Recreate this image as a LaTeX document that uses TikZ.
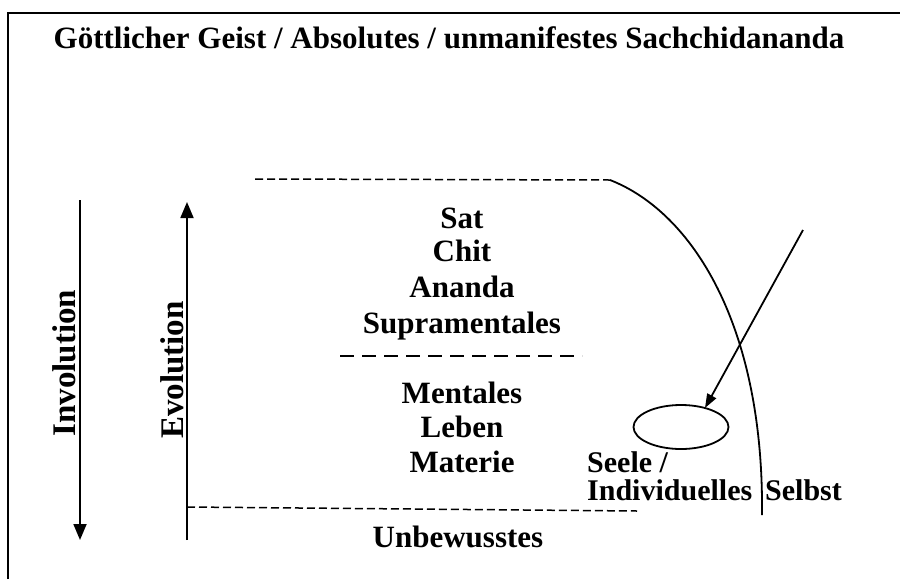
\documentclass[tikz,border=0pt]{standalone}
\usepackage{fontspec}
\setmainfont{Liberation Serif}
\usetikzlibrary{arrows.meta,shapes.geometric}
\begin{document}
\begin{tikzpicture}[x=1pt,y=-1pt,
  lbl/.style={font=\bfseries\fontsize{31}{35}\selectfont, inner sep=0pt, anchor=base},
  side/.style={font=\bfseries\fontsize{30}{34}\selectfont, inner sep=0pt, anchor=base west},
  ttl/.style={font=\bfseries\fontsize{31}{35}\selectfont, inner sep=0pt, anchor=base},
  vlbl/.style={font=\bfseries\fontsize{33}{37}\selectfont, inner sep=0pt, rotate=90, anchor=center},
  frame/.style={line width=2.5pt},
  solid line/.style={line width=1.8pt},
  bigarrow/.style={line width=1.8pt, -{Triangle[length=16pt,width=13pt]}},
  smallarrow/.style={line width=1.8pt, -{Triangle[length=14pt,width=10pt]}},
  fine dash/.style={line width=1.5pt, dash pattern=on 8pt off 4pt},
  coarse dash/.style={line width=2.2pt, dash pattern=on 14pt off 8pt}]
\useasboundingbox (0,0) rectangle (900,579);
% frame
\coordinate (fTL) at (8,13);
\coordinate (fTR) at (900,13);
\coordinate (fBL) at (8,579);
\draw[frame] (fBL) -- (fTL) -- (fTR);

% title
\node[ttl] (title) at (449,48) {Göttlicher Geist / Absolutes / unmanifestes Sachchidananda};

% involution / evolution
\coordinate (invTop) at (80,200);
\coordinate (invBot) at (80,540);
\draw[bigarrow] (invTop) -- (invBot);
\node[vlbl] (inv) at (64,363) {Involution};
\coordinate (evoBot) at (187,540);
\coordinate (evoTop) at (187,202);
\draw[bigarrow] (evoBot) -- (evoTop);
\node[vlbl] (evo) at (172,370) {Evolution};

% levels
\coordinate (topL) at (255,179);
\coordinate (topR) at (610,180);
\draw[fine dash] (topL) -- (topR);
\node[lbl] (sat) at (462,228) {Sat};
\node[lbl] (chit) at (462,261) {Chit};
\node[lbl] (ananda) at (462,297) {Ananda};
\node[lbl] (supra) at (462,333) {Supramentales};
\coordinate (midL) at (340,356);
\coordinate (midR) at (582,356);
\draw[coarse dash] (midL) -- (midR);
\node[lbl] (ment) at (462,403) {Mentales};
\node[lbl] (leben) at (462,437) {Leben};
\node[lbl] (mat) at (462,472) {Materie};
\coordinate (botL) at (187,507);
\coordinate (botR) at (637,511);
\draw[fine dash] (botL) -- (botR);
\node[lbl] (unb) at (458,547) {Unbewusstes};

% self curve
\coordinate (curveEnd) at (762,515);
\draw[solid line] (topR) .. controls (692,212) and (764,325) .. (curveEnd);

% soul
\node[draw, solid line, ellipse, minimum width=95pt, minimum height=44pt, inner sep=0pt] (soul) at (681,427) {};
\coordinate (arrStart) at (803,230);
\coordinate (arrTip) at (705,408);
\draw[smallarrow] (arrStart) -- (arrTip);
\node[side] (seele) at (587,472) {Seele /};
\node[side] (indiv) at (587,500) {Individuelles};
\node[side] (selbst) at (765,500) {Selbst};
\end{tikzpicture}
\end{document}
